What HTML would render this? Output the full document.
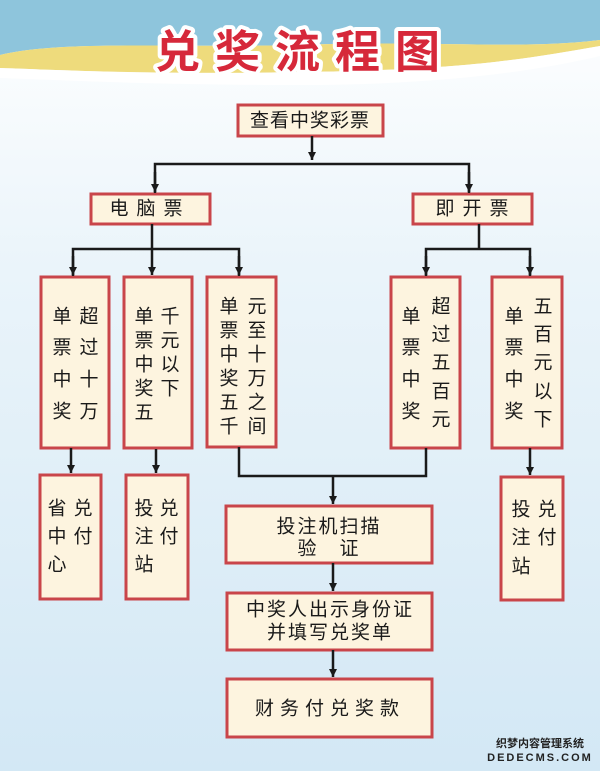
<!DOCTYPE html>
<html><head><meta charset="utf-8"><style>
html,body{margin:0;padding:0;width:600px;height:771px;overflow:hidden}
svg text{font-family:"Liberation Sans","Noto Sans CJK SC",sans-serif;fill:#1a1a1a;font-size:19px;text-anchor:middle;dominant-baseline:central}
</style></head><body>
<svg width="600" height="771" viewBox="0 0 600 771" xmlns="http://www.w3.org/2000/svg">
<defs>
<linearGradient id="bg" x1="0" y1="0" x2="0" y2="1">
<stop offset="0" stop-color="#ffffff"/><stop offset="0.35" stop-color="#eaf4fa"/><stop offset="1" stop-color="#d3e8f5"/>
</linearGradient>
<marker id="ar" markerWidth="10" markerHeight="10" refX="8" refY="4" orient="auto" markerUnits="userSpaceOnUse">
<path d="M0,0 L8,4 L0,8 z" fill="#1a1a1a"/></marker>
</defs>
<rect width="600" height="771" fill="url(#bg)"/>
<path d="M0,0 H600 V40 C520,50 430,40 300,45 C180,48 60,40 0,55 Z" fill="#8ec5dc"/>
<path d="M0,55 C60,40 180,48 300,45 C430,40 520,50 600,40 L600,46 C520,60 460,70 300,72 C160,75 60,70 0,68 Z" fill="#eedb7c"/>
<path d="M0,68 C60,70 160,75 300,72 C460,70 520,60 600,46 L600,56 C520,75 420,85 300,85 C150,85 60,80 0,78 Z" fill="#ffffff" opacity="0.9"/>
<text x="305" y="52" style="font-size:45px;font-weight:bold;letter-spacing:15px;fill:#fff;stroke:#fff;stroke-width:8;stroke-linejoin:round">兑奖流程图</text>
<text x="305" y="52" style="font-size:45px;font-weight:bold;letter-spacing:15px;fill:#d6283a">兑奖流程图</text>
<g fill="#fdf4df" stroke="#c9454a" stroke-width="3">
<rect x="238" y="105" width="145" height="31"/>
<rect x="91" y="194" width="119" height="30"/>
<rect x="413" y="194" width="119" height="30"/>
<rect x="41" y="277" width="68" height="171"/>
<rect x="124" y="277" width="68" height="171"/>
<rect x="207" y="277" width="69" height="170"/>
<rect x="391" y="277" width="69" height="171"/>
<rect x="492" y="277" width="70" height="171"/>
<rect x="40" y="475" width="61" height="124"/>
<rect x="126" y="475" width="62" height="124"/>
<rect x="501" y="477" width="62" height="123"/>
<rect x="226" y="506" width="206" height="57"/>
<rect x="227" y="593" width="205" height="57"/>
<rect x="227" y="679" width="205" height="58"/>
</g>
<g stroke="#1a1a1a" stroke-width="2.5" fill="none">
<path d="M312,136 V160" marker-end="url(#ar)"/>
<path d="M155,193 V164 H469 V193"/>
<path d="M155,172 V192" marker-end="url(#ar)"/><path d="M469,172 V192" marker-end="url(#ar)"/>
<path d="M152,224 V248"/><path d="M73,276 V249 H239 V276"/>
<path d="M73,256 V275" marker-end="url(#ar)"/><path d="M152,249 V275" marker-end="url(#ar)"/><path d="M239,256 V275" marker-end="url(#ar)"/>
<path d="M479,224 V249"/><path d="M426,276 V249 H530 V276"/>
<path d="M426,256 V275" marker-end="url(#ar)"/><path d="M530,256 V275" marker-end="url(#ar)"/>
<path d="M71,448 V473" marker-end="url(#ar)"/>
<path d="M156,449 V473" marker-end="url(#ar)"/>
<path d="M530,448 V475" marker-end="url(#ar)"/>
<path d="M239,447 V476 H426 V448"/>
<path d="M333,476 V504" marker-end="url(#ar)"/>
<path d="M333,563 V591" marker-end="url(#ar)"/>
<path d="M333,650 V677" marker-end="url(#ar)"/>
</g>
<text x="310" y="121" style="letter-spacing:1px">查看中奖彩票</text>
<text x="150" y="209" style="letter-spacing:8px">电脑票</text>
<text x="476" y="209" style="letter-spacing:8px">即开票</text>
<g>
<text x="62" y="317">单</text><text x="62" y="348">票</text><text x="62" y="380">中</text><text x="62" y="412">奖</text>
<text x="89" y="317">超</text><text x="89" y="348">过</text><text x="89" y="380">十</text><text x="89" y="412">万</text>
<text x="144" y="317">单</text><text x="144" y="341">票</text><text x="144" y="365">中</text><text x="144" y="389">奖</text><text x="144" y="413">五</text>
<text x="170" y="317">千</text><text x="170" y="341">元</text><text x="170" y="365">以</text><text x="170" y="389">下</text>
<text x="229" y="307">单</text><text x="229" y="331">票</text><text x="229" y="355">中</text><text x="229" y="379">奖</text><text x="229" y="403">五</text><text x="229" y="427">千</text>
<text x="257" y="307">元</text><text x="257" y="331">至</text><text x="257" y="355">十</text><text x="257" y="379">万</text><text x="257" y="403">之</text><text x="257" y="427">间</text>
<text x="411" y="317">单</text><text x="411" y="348">票</text><text x="411" y="380">中</text><text x="411" y="412">奖</text>
<text x="441" y="307">超</text><text x="441" y="335">过</text><text x="441" y="363">五</text><text x="441" y="392">百</text><text x="441" y="420">元</text>
<text x="514" y="317">单</text><text x="514" y="348">票</text><text x="514" y="380">中</text><text x="514" y="412">奖</text>
<text x="543" y="307">五</text><text x="543" y="335">百</text><text x="543" y="363">元</text><text x="543" y="392">以</text><text x="543" y="420">下</text>
<text x="57" y="509">省</text><text x="57" y="537">中</text><text x="57" y="565">心</text>
<text x="83" y="509">兑</text><text x="83" y="537">付</text>
<text x="144" y="509">投</text><text x="144" y="537">注</text><text x="144" y="565">站</text>
<text x="169" y="509">兑</text><text x="169" y="537">付</text>
<text x="521" y="510">投</text><text x="521" y="538">注</text><text x="521" y="567">站</text>
<text x="547" y="510">兑</text><text x="547" y="538">付</text>
</g>
<text x="329" y="527" style="letter-spacing:2px">投注机扫描</text>
<text x="329" y="549" style="letter-spacing:2px">验　证</text>
<text x="330" y="610" style="letter-spacing:2px">中奖人出示身份证</text>
<text x="330" y="633" style="letter-spacing:2px">并填写兑奖单</text>
<text x="330" y="709" style="letter-spacing:6px">财务付兑奖款</text>
<text x="540" y="744" style="font-size:11px;font-weight:bold;fill:#222">织梦内容管理系统</text>
<text x="540" y="758" style="font-size:11px;font-weight:bold;fill:#222;letter-spacing:2px">DEDECMS.COM</text>
</svg>
</body></html>
